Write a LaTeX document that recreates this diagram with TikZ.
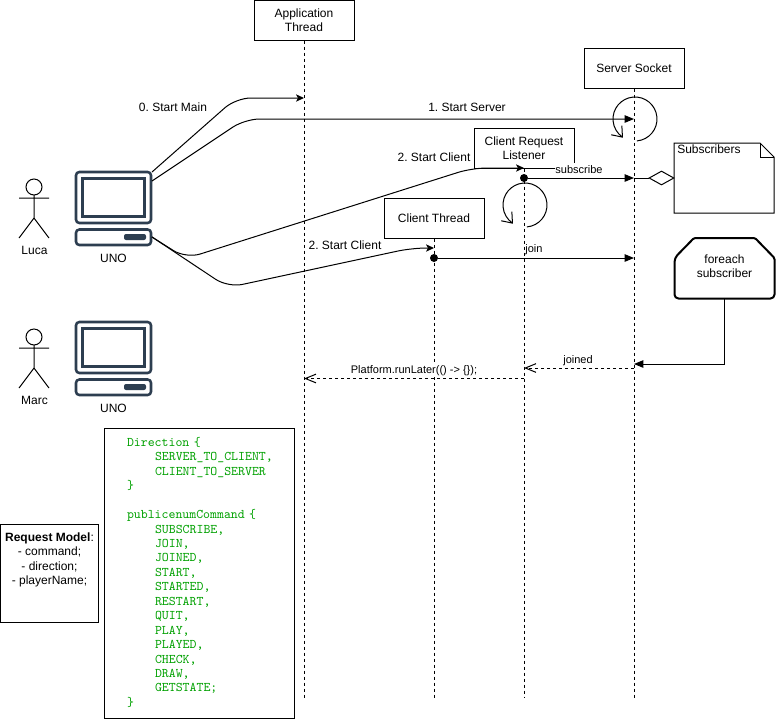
\documentclass[tikz,border=0pt]{standalone}
\usepackage{fontspec}
\setmainfont{Liberation Sans}
\usetikzlibrary{arrows.meta,positioning,shapes.geometric}
\definecolor{pcblue}{HTML}{2D3E50}
\definecolor{codegreen}{HTML}{00A000}
\newcommand{\codetab}{\hspace*{21pt}}
\frenchspacing
\tikzset{
    box/.style={draw, fill=white, line width=0.75pt, inner sep=0pt, minimum width=75pt, minimum height=30pt, align=center},
    lifeline/.style={line width=0.75pt, dash pattern=on 2.25pt off 2.25pt},
    msg/.style={line width=0.75pt, -{Triangle[length=7pt,width=5.6pt]}},
    start/.style={line width=0.75pt, rounded corners=11pt, -{Stealth[length=6pt,width=5.5pt,inset=1.5pt]}},
    back/.style={line width=0.75pt, dash pattern=on 2.25pt off 2.25pt, -{Straight Barb[length=8pt,width=6.5pt]}},
    loopline/.style={line width=0.75pt, -{Straight Barb[length=6.8pt,width=10.5pt,quick]}},
    dot/.style={circle, fill=black, inner sep=0pt, minimum size=6pt},
    tiny label/.style={font=\fontsize{8.25}{9.9}\selectfont, fill=white, inner sep=0.5pt, minimum height=10.5pt, text height=6pt, text depth=1.7pt},
    pc/.style={draw=pcblue, line width=1.9pt, rounded corners=2.5pt},
}
\begin{document}
\begin{tikzpicture}[x=0.75pt, y=-0.75pt, every node/.style={font=\fontsize{9}{10.8}\selectfont}]
    \useasboundingbox (0,0) rectangle (776,719);
    % Lifelines
    \node[box] (appThread) at (304,20) {Application\\Thread};
    \node[box] (serverSocket) at (634,68) {Server Socket};
    \node[box] (listener) at (524,148) {Client Request\\Listener};
    \node[box] (clientThread) at (434,218) {Client Thread};
    \foreach \lname in {appThread,serverSocket,listener,clientThread}
        \draw[lifeline] (\lname.south) -- (\lname.south |- 0,698);
    % Actors and computers
    \foreach \yy/\aname in {0/Luca,150/Marc} {
        \draw[line width=0.75pt] (34,{187+\yy}) circle (8);
        \draw[line width=0.75pt] (34,{195+\yy}) -- (34,{218+\yy}) (19,{198+\yy}) -- (49,{198+\yy})
            (19,{238+\yy}) -- (34,{218+\yy}) -- (49,{238+\yy});
        \node (actor\aname) at (34.5,{250+\yy}) {\aname};
        \draw[pc] (76,{172+\yy}) rectangle (151,{223+\yy});
        \draw[draw=pcblue, line width=1.9pt] (82.5,{178.5+\yy}) rectangle (144.5,{216.5+\yy});
        \draw[pc] (76,{229.5+\yy}) rectangle (151,{245+\yy});
        \fill[pcblue, rounded corners=1.5pt] (124,{234+\yy}) rectangle (146,{240+\yy});
        \node (uno\aname) at (113.5,{258+\yy}) {UNO};
    }
    \coordinate (pcTopA) at (152,172);
    \coordinate (pcTopB) at (152,181);
    \coordinate (pcBase) at (152,237);
    % Start messages
    \coordinate (mainIn) at (304,98);
    \coordinate (serverIn) at (634,119);
    \coordinate (listenerIn) at (524,168);
    \coordinate (clientIn) at (434,248);
    \draw[start] (pcTopA) -- (236,98) -- (mainIn);
    \draw[msg, rounded corners=11pt] (pcTopB) -- (245,119) -- (serverIn);
    \draw[start] (pcBase) -- (186,258.5) -- (472,168) -- (listenerIn);
    \draw[start] (pcBase) -- (228,287.5) -- (412,248) -- (clientIn);
    \node (startMain) at (173,107) {0. Start Main};
    \node (startServer) at (467,107) {1. Start Server};
    \node (startListener) at (434,157) {2. Start Client};
    \node (startClient) at (345,245) {2. Start Client};
    % Self loops
    \coordinate (serverLoop) at (635,119);
    \coordinate (listenerLoop) at (525,205);
    \draw[loopline] ([shift={(85:22)}]serverLoop) arc[start angle=-85, end angle=235, radius=16.5pt] -- ++(0.6,0.7);
    \draw[loopline] ([shift={(85:22)}]listenerLoop) arc[start angle=-85, end angle=235, radius=16.5pt] -- ++(0.6,0.7);
    % Subscribe and join
    \node[dot] (subDot) at (524,178) {};
    \node[dot] (joinDot) at (434,258) {};
    \coordinate (subIn) at (634,178);
    \coordinate (joinIn) at (634,258);
    \draw[msg] (subDot) -- (subIn);
    \draw[msg] (joinDot) -- (joinIn);
    \node[tiny label] (subLabel) at (579,170.4) {subscribe};
    \node[tiny label] (joinLabel) at (534,250.1) {join};
    % Subscribers note
    \draw[line width=0.75pt, fill=white] (674,143) -- (760,143) -- (774,157) -- (774,213) -- (674,213) -- cycle;
    \draw[line width=0.75pt] (760,143) -- (760,157) -- (774,157);
    \node[anchor=west, inner sep=0pt] (subscribers) at (677,149.5) {Subscribers};
    \node[diamond, draw, fill=white, line width=0.75pt, inner sep=0pt, shape aspect=1.8, minimum width=18.75pt, minimum height=10.5pt] (subDiamond) at (661.5,178) {};
    \draw[line width=0.75pt] (subIn) -- (subDiamond.west);
    % Foreach and replies
    \draw[line width=1.5pt, rounded corners=1pt] (674.5,258) -- (694,238) -- (755,238) -- (774.5,258)
        [rounded corners=3pt] -- (774.5,298.5) -- (674.5,298.5) -- cycle;
    \node[inner sep=0pt, minimum width=75pt, minimum height=48.4pt, align=center] (foreachBox) at (724.5,266.2) {foreach\\subscriber};
    \coordinate (joinedIn) at (634,364);
    \draw[msg] (foreachBox.south) |- (joinedIn);
    \coordinate (joinedFrom) at (634,368);
    \coordinate (joinedTo) at (524,368);
    \coordinate (runFrom) at (524,378.5);
    \coordinate (runTo) at (304,378.5);
    \draw[back] (joinedFrom) -- (joinedTo);
    \draw[back] (runFrom) -- (runTo);
    \node[tiny label] (joinedLabel) at (578,360.4) {joined};
    \node[tiny label] (runLabel) at (414,370.4) {Platform.runLater(() -> \{\});};
    % Models
    \node[draw, line width=0.75pt, inner sep=0pt, minimum width=73.5pt, minimum height=73.5pt, align=center] (requestModel) at (49.5,573)
        {\textbf{Request Model}:\\- command;\\- direction;\\- playerName;\\~\\~};
    \node[draw, line width=0.75pt, inner xsep=17.25pt, inner ysep=0pt, text width=108pt, minimum height=217.5pt, align=left, text=codegreen,
        font=\ttfamily\fontsize{9.9}{10.84}\selectfont] (commandModel) at (199,573)
        {Direction \{\\
        \codetab SERVER\_TO\_CLIENT,\\
        \codetab CLIENT\_TO\_SERVER\\
        \}\\
        ~\\
        publicenumCommand \{\\
        \codetab SUBSCRIBE,\\
        \codetab JOIN,\\
        \codetab JOINED,\\
        \codetab START,\\
        \codetab STARTED,\\
        \codetab RESTART,\\
        \codetab QUIT,\\
        \codetab PLAY,\\
        \codetab PLAYED,\\
        \codetab CHECK,\\
        \codetab DRAW,\\
        \codetab GETSTATE;\\
        \}\\[-9pt]~};
\end{tikzpicture}
\end{document}
